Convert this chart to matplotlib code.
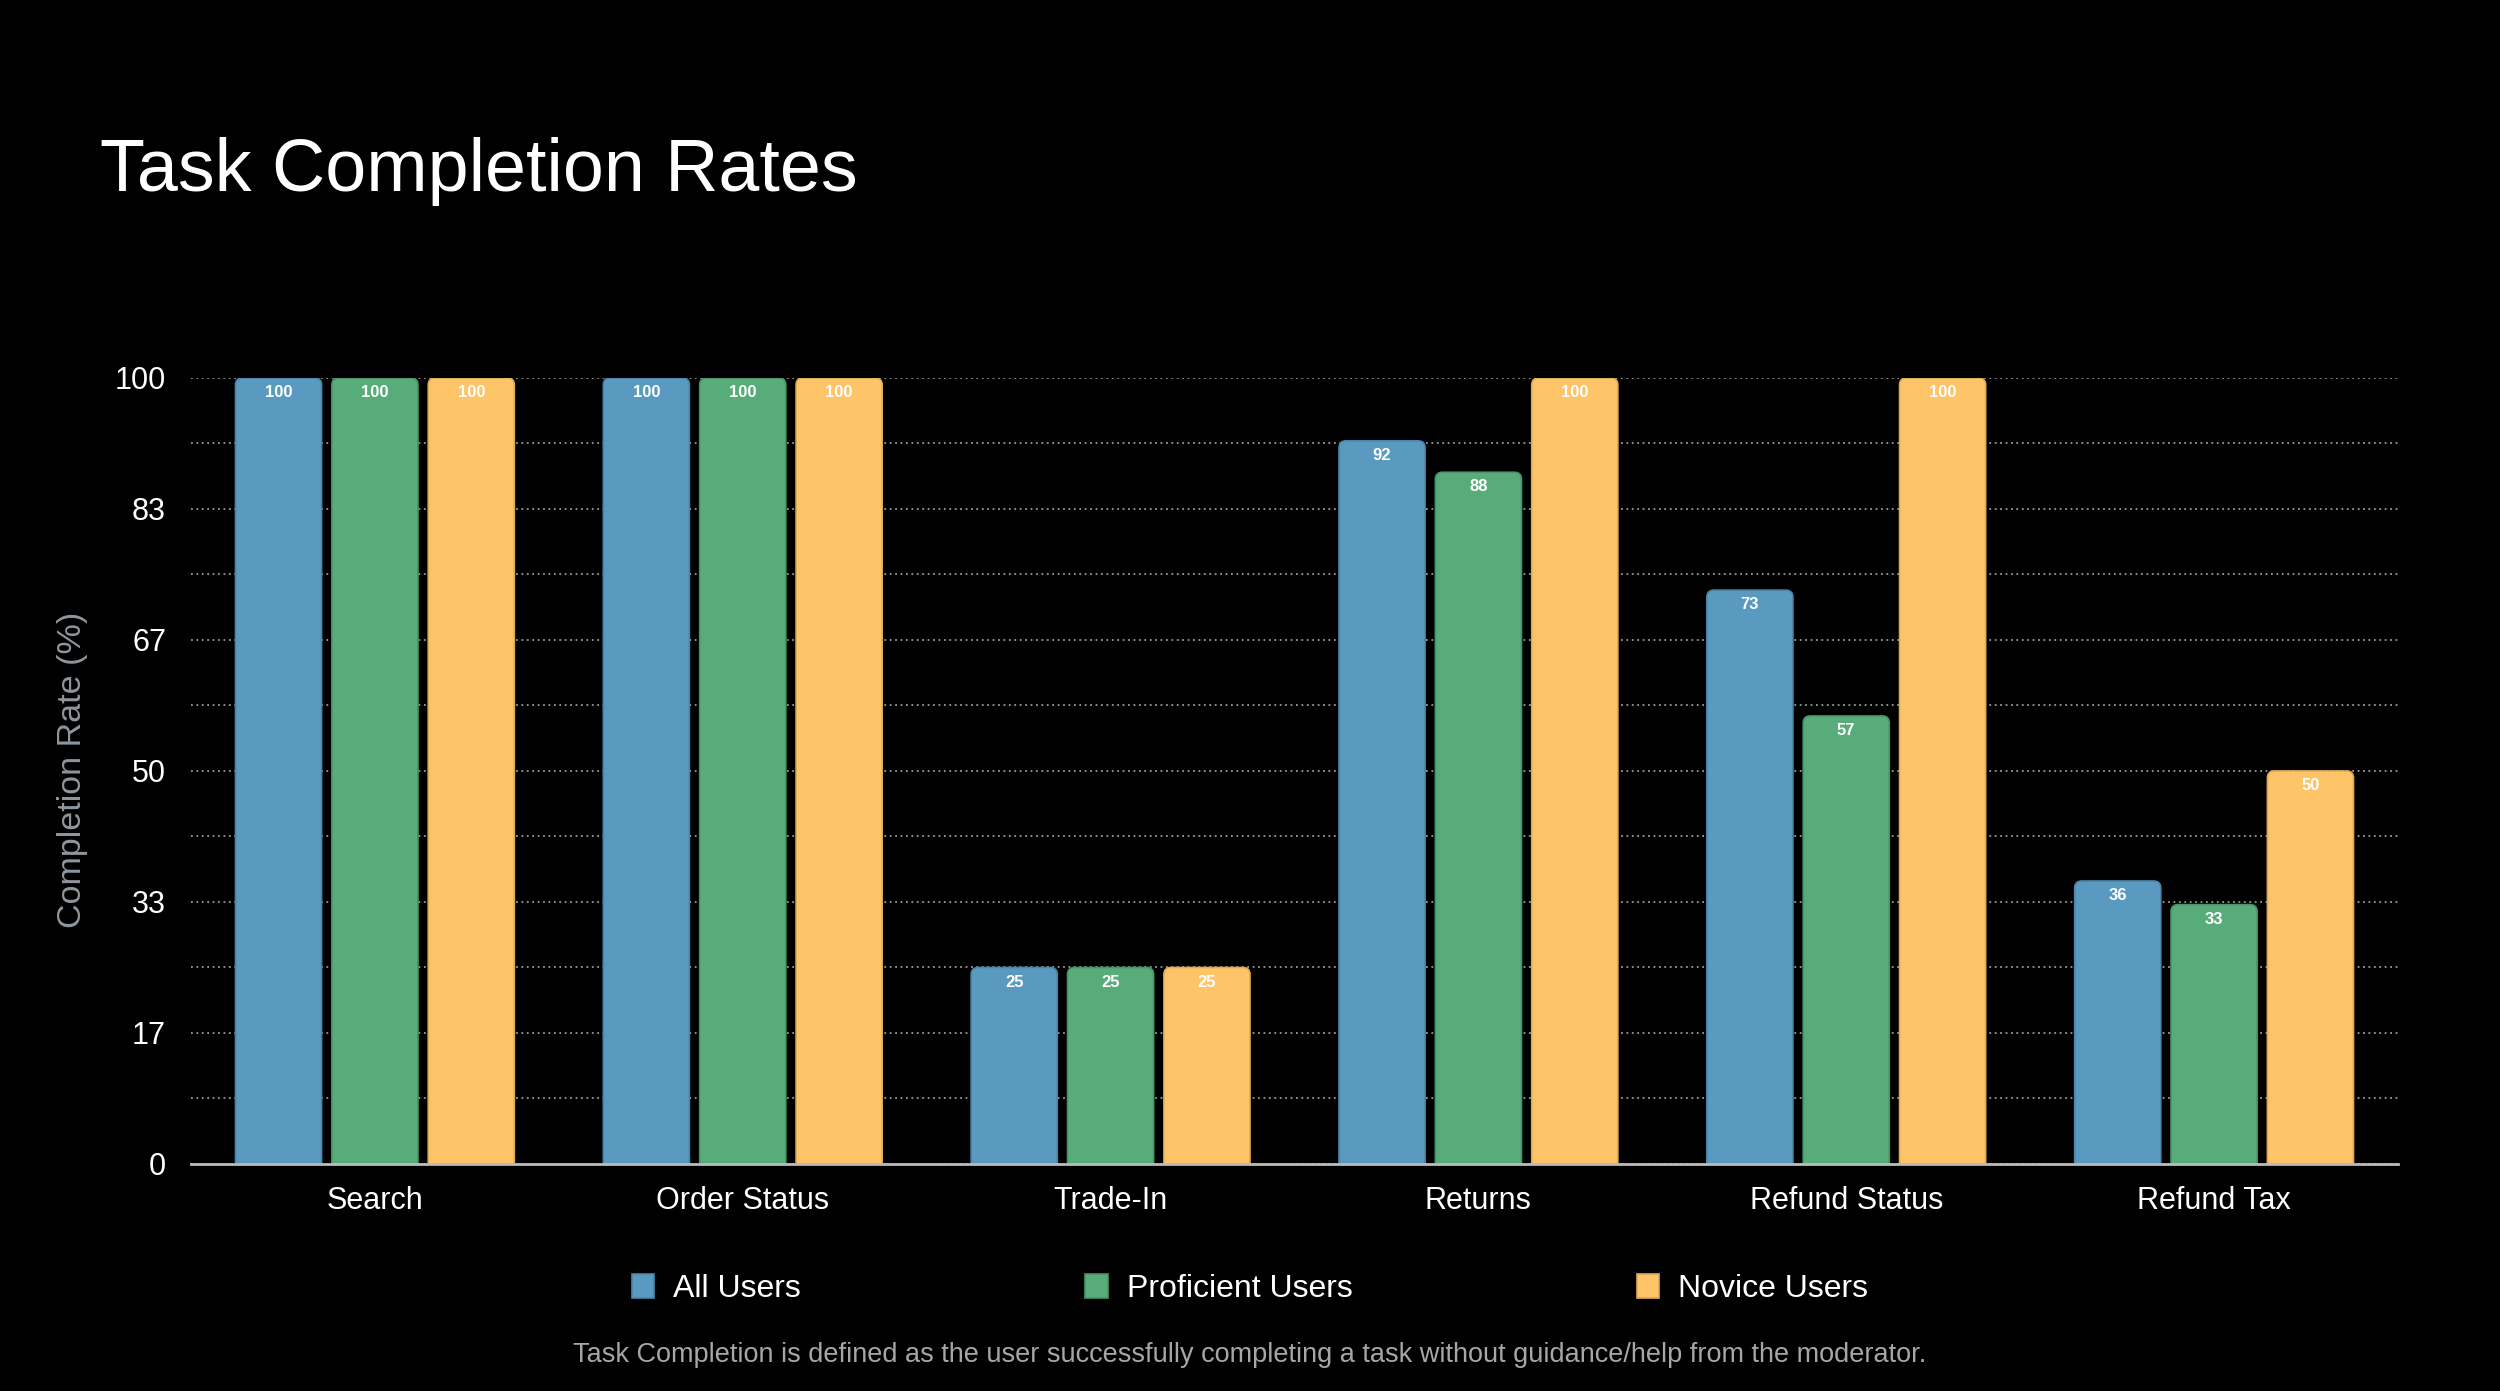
import matplotlib
matplotlib.use("Agg")
import matplotlib.pyplot as plt
from matplotlib.patches import FancyBboxPatch, Patch
from matplotlib.ticker import MultipleLocator, FixedLocator
import numpy as np

categories = ['Search', 'Order Status', 'Trade-In', 'Returns', 'Refund Status', 'Refund Tax']
series_names = ['All Users', 'Proficient Users', 'Novice Users']
all_users = [100, 100, 25, 92, 73, 36]
proficient_users = [100, 100, 25, 88, 57, 33]
novice_users = [100, 100, 25, 100, 100, 50]
ytick_values = [0, 100/6, 200/6, 50, 400/6, 500/6, 100]
ytick_labels = ['0', '17', '33', '50', '67', '83', '100']

colors = ['#5A9AC0', '#58AC7A', '#FEC468']
edge_colors = ['#4A86AA', '#4A9468', '#E0AA55']

plt.rcParams['font.family'] = ['Liberation Sans', 'DejaVu Sans']

fig = plt.figure(figsize=(25, 13.91), dpi=100, facecolor='black')
ax = fig.add_axes([0.0764, 0.1632, 0.8828, 0.5651])
ax.set_facecolor('black')

x = np.arange(len(categories))
offset = 0.262
width = 0.234
series = [all_users, proficient_users, novice_users]

ax.set_xlim(-0.5, len(categories) - 0.5)
ax.set_ylim(0, 100)

# rounding radii in data units (about 7 px)
px_per_x = 0.8828 * 2500 / len(categories)
px_per_y = 0.5651 * 1391 / 100
r_px = 7
rx = r_px / px_per_x
ry = r_px / px_per_y

handles = []
for i, (vals, c, ec, name) in enumerate(zip(series, colors, edge_colors, series_names)):
    bars = ax.bar(x + (i - 1) * offset, vals, width, color=c, label=name, zorder=3)
    handles.append(Patch(facecolor=c, edgecolor=ec, linewidth=1.2, label=name))
    for b, v in zip(bars, vals):
        b.set_visible(False)
        p = FancyBboxPatch((b.get_x(), -2 * ry), b.get_width(), b.get_height() + 2 * ry,
                           boxstyle=f"round,pad=0,rounding_size={rx}",
                           mutation_aspect=ry / rx,
                           facecolor=c, edgecolor=ec, linewidth=1.2, zorder=3)
        ax.add_patch(p)
        ax.annotate(f"{v}", (b.get_x() + b.get_width() / 2, b.get_height()),
                    xytext=(0, -10.5), textcoords='offset points',
                    ha='center', va='center', color='white',
                    fontsize=12, fontweight='bold', zorder=4)

ax.yaxis.set_major_locator(FixedLocator(ytick_values))
ax.set_yticklabels(ytick_labels)
ax.yaxis.set_minor_locator(MultipleLocator(100 / 12))
ax.grid(True, axis='y', which='both', linestyle=(0, (1, 2)), color='#9A9A9A', linewidth=1.3, zorder=1)
ax.set_axisbelow(True)

ax.set_xticks(x)
ax.set_xticklabels(categories)
ax.tick_params(axis='both', which='both', length=0, colors='white', labelsize=22)
ax.tick_params(axis='y', pad=18)
ax.tick_params(axis='x', pad=16)

for s in ['top', 'right', 'left']:
    ax.spines[s].set_visible(False)
ax.spines['bottom'].set_color('#BBBBBB')
ax.spines['bottom'].set_linewidth(2)
ax.spines['bottom'].set_zorder(5)

fig.text(0.04, 0.8627, 'Task Completion Rates', color='white', fontsize=53,
         ha='left', va='baseline')

fig.text(73 / 2500, 0.4464, 'Completion Rate (%)', color='#8E969E', fontsize=24.5,
         rotation=90, ha='center', va='center')

leg = fig.legend(handles=handles, labels=series_names, loc='center',
                 bbox_to_anchor=(0.5, 0.0735), ncol=3, frameon=False,
                 fontsize=23, handlelength=0.7, handleheight=0.8,
                 handletextpad=0.6, columnspacing=8.9)
for t in leg.get_texts():
    t.set_color('white')

fig.text(0.5, 0.0259, 'Task Completion is defined as the user successfully completing a task without guidance/help from the moderator.',
         color='#A6A6A6', fontsize=19.5, ha='center', va='center')

fig.savefig('out.png', dpi=100, facecolor='black')
